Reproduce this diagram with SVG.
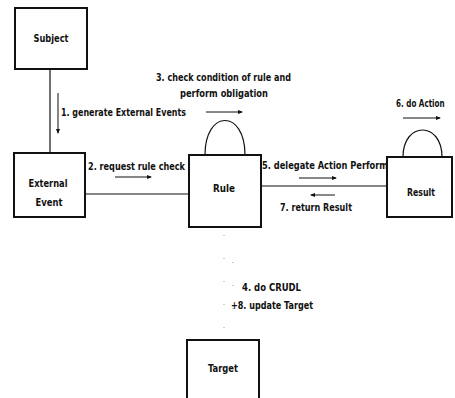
<svg xmlns="http://www.w3.org/2000/svg" width="455" height="398" viewBox="0 0 455 398">
<defs>
<marker id="ah" markerWidth="5" markerHeight="5" refX="4" refY="2.5" orient="auto" markerUnits="userSpaceOnUse">
<path d="M0,0.5 L5,2.5 L0,4.5 Z" fill="#111"/>
</marker>
</defs>
<style>
.box{fill:#fff;stroke:#111;stroke-width:2}
.ln{stroke:#111;stroke-width:1.2;fill:none}
.arr{stroke:#111;stroke-width:1;fill:none;marker-end:url(#ah)}
.loop{stroke:#111;stroke-width:1.2;fill:none}
.faint{stroke:#999;stroke-width:1;stroke-dasharray:1 22;fill:none}
text{font-family:"DejaVu Sans Condensed","Liberation Sans Narrow","Liberation Sans",sans-serif;font-weight:bold;font-size:10px;fill:#111}
.nl{text-anchor:middle}
</style>
<rect width="455" height="398" fill="#fff"/>
<g id="connectors">
<line class="ln" x1="50" y1="69" x2="50" y2="153"/>
<line class="arr" x1="58" y1="93" x2="58" y2="133"/>
<line class="ln" x1="85" y1="194" x2="189" y2="194"/>
<line class="arr" x1="115" y1="177" x2="151" y2="177"/>
<line class="ln" x1="261" y1="186" x2="387" y2="186"/>
<line class="arr" x1="299" y1="178" x2="336" y2="178"/>
<line class="arr" x1="335" y1="195" x2="311" y2="195"/>
<path class="loop" d="M205,155 C205,109 245,109 245,155"/>
<line class="arr" x1="206" y1="112" x2="242" y2="112"/>
<path class="loop" d="M403,157 C403,121 442,121 442,157"/>
<line class="arr" x1="403" y1="118" x2="440" y2="118"/>
<line class="faint" x1="224" y1="235" x2="224" y2="340"/>
<line class="faint" x1="233" y1="262" x2="233" y2="320"/>
</g>
<g id="subject">
<rect class="box" x="15" y="8" width="72" height="61"/>
<text class="nl" x="51" y="42" textLength="35" lengthAdjust="spacingAndGlyphs">Subject</text>
</g>
<g id="external-event">
<rect class="box" x="14" y="153" width="71" height="64"/>
<text class="nl" x="48" y="187" textLength="39" lengthAdjust="spacingAndGlyphs">External</text>
<text class="nl" x="49" y="206" textLength="27" lengthAdjust="spacingAndGlyphs">Event</text>
</g>
<g id="rule">
<rect class="box" x="189" y="155" width="72" height="72"/>
<text class="nl" x="224" y="192" textLength="22" lengthAdjust="spacingAndGlyphs">Rule</text>
</g>
<g id="result">
<rect class="box" x="387" y="157" width="65" height="60"/>
<text class="nl" x="421" y="196" textLength="28" lengthAdjust="spacingAndGlyphs">Result</text>
</g>
<g id="target">
<rect class="box" x="187" y="340" width="72" height="70"/>
<text class="nl" x="223" y="372" textLength="30" lengthAdjust="spacingAndGlyphs">Target</text>
</g>
<g id="labels">
<text x="61" y="116" textLength="125" lengthAdjust="spacingAndGlyphs">1. generate External Events</text>
<text x="88" y="170" textLength="97" lengthAdjust="spacingAndGlyphs">2. request rule check</text>
<text x="156" y="81" textLength="135" lengthAdjust="spacingAndGlyphs">3. check condition of rule and</text>
<text x="180" y="97" textLength="88" lengthAdjust="spacingAndGlyphs">perform obligation</text>
<text x="262" y="169" textLength="126" lengthAdjust="spacingAndGlyphs">5. delegate Action Perform</text>
<text x="280" y="211" textLength="72" lengthAdjust="spacingAndGlyphs">7. return Result</text>
<text transform="translate(396,107) scale(0.8,1)" x="0" y="0">6. do Action</text>
<text x="242" y="291" textLength="59" lengthAdjust="spacingAndGlyphs">4. do CRUDL</text>
<text x="231" y="309" textLength="82" lengthAdjust="spacingAndGlyphs">+8. update Target</text>
</g>
</svg>
